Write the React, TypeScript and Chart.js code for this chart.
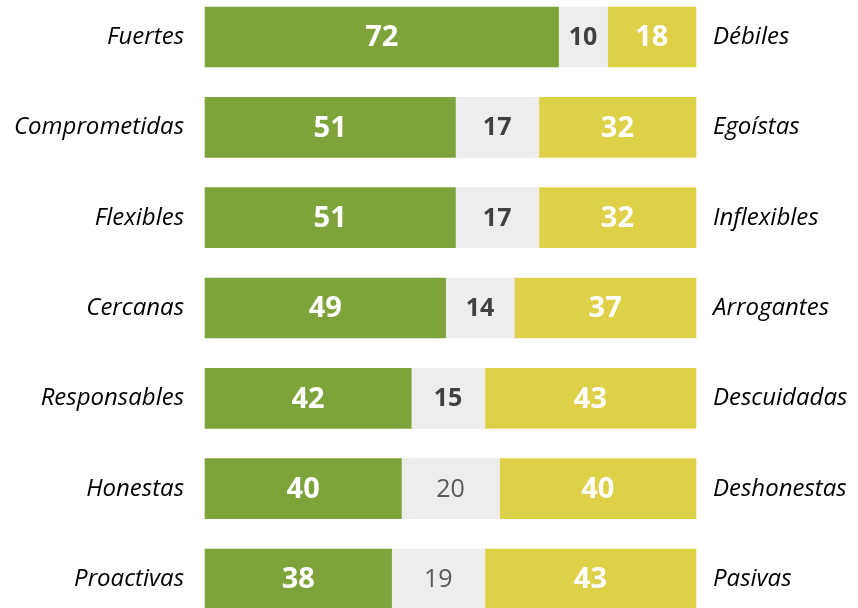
import React, { useEffect, useRef } from "react";
import { Chart, registerables } from "chart.js";

Chart.register(...registerables);

const leftLabels = ["Fuertes", "Comprometidas", "Flexibles", "Cercanas", "Responsables", "Honestas", "Proactivas"];
const rightLabels = ["Débiles", "Egoístas", "Inflexibles", "Arrogantes", "Descuidadas", "Deshonestas", "Pasivas"];
const positiveValues = [72, 51, 51, 49, 42, 40, 38];
const neutralValues = [10, 17, 17, 14, 15, 20, 19];
const negativeValues = [18, 32, 32, 37, 43, 40, 43];
const neutralBold = [true, true, true, true, true, false, false];

const GREEN = "#7fa33b";
const GRAY = "#ededed";
const YELLOW = "#dfd147";

const labelPlugin = {
  id: "sideLabels",
  afterDatasetsDraw(chart: any) {
    const { ctx } = chart;
    const y = chart.scales.y;
    const x = chart.scales.x;
    ctx.save();
    ctx.textBaseline = "middle";
    ctx.fillStyle = "#000000";
    ctx.font = "italic 24px 'Open Sans'";
    leftLabels.forEach((lab, i) => {
      const py = y.getPixelForValue(i);
      ctx.textAlign = "right";
      ctx.fillText(lab, x.left - 21, py);
      ctx.textAlign = "left";
      ctx.fillText(rightLabels[i], x.right + 17, py);
    });
    chart.data.datasets.forEach((ds: any, di: number) => {
      const meta = chart.getDatasetMeta(di);
      meta.data.forEach((bar: any, i: number) => {
        const v = ds.data[i];
        const cx = (bar.x + bar.base) / 2;
        const cy = bar.y + 1;
        ctx.textAlign = "center";
        if (di === 1) {
          ctx.fillStyle = neutralBold[i] ? "#404040" : "#595959";
          ctx.font = (neutralBold[i] ? "bold " : "") + "25px 'Open Sans'";
        } else {
          ctx.fillStyle = "#ffffff";
          ctx.font = "bold 29px 'Open Sans'";
        }
        ctx.fillText(String(v), cx, cy);
      });
    });
    ctx.restore();
  },
};

export default function App() {
  const ref = useRef<HTMLCanvasElement | null>(null);
  useEffect(() => {
    if (!ref.current) return;
    const chart = new Chart(ref.current, {
      type: "bar",
      data: {
        labels: leftLabels,
        datasets: [
          { data: positiveValues, backgroundColor: GREEN, borderWidth: 0, barThickness: 60, clip: false as any },
          { data: neutralValues, backgroundColor: GRAY, borderWidth: 0, barThickness: 60, clip: false as any },
          { data: negativeValues, backgroundColor: YELLOW, borderWidth: 0, barThickness: 60, clip: false as any },
        ],
      },
      options: {
        indexAxis: "y",
        animation: false,
        responsive: false,
        maintainAspectRatio: false,
        layout: { padding: { left: 205, right: 162, top: 37, bottom: 29 } },
        plugins: { legend: { display: false }, tooltip: { enabled: false } },
        scales: {
          x: { stacked: true, min: 0, max: 100, display: false },
          y: { stacked: true, display: false, offset: false },
        },
      },
      plugins: [labelPlugin],
    });
    return () => chart.destroy();
  }, []);
  return (
    <div style={{ position: "absolute", left: 0, top: 0, width: 858, height: 608, background: "#ffffff" }}>
      <canvas ref={ref} width={858} height={608} style={{ width: 858, height: 608, display: "block" }} />
    </div>
  );
}
